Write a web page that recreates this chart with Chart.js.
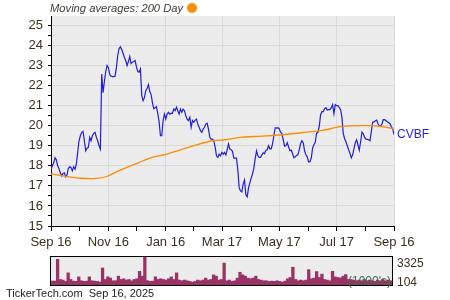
<!DOCTYPE html>
<html><head><meta charset="utf-8">
<script src="https://cdn.jsdelivr.net/npm/chart.js@4.4.1/dist/chart.umd.min.js"></script>
<style>
body{margin:0;background:#fff;width:450px;height:300px;overflow:hidden;position:relative;font-family:Arial,"Liberation Sans",sans-serif}
canvas{position:absolute;left:0}
#main{top:0}
#vol{top:250px}
.t{position:absolute;white-space:nowrap;line-height:14px}
</style></head><body>
<canvas id="main" width="450" height="250"></canvas>
<canvas id="vol" width="450" height="40"></canvas>
<div class="t" style="left:50px;top:1px;font-size:11.2px;font-style:italic;color:#3f3a33">Moving averages: 200 Day</div>
<div style="position:absolute;left:187px;top:3px;width:10px;height:10px;border-radius:50%;background:#ff8c00"></div>
<div class="t" style="left:397px;top:127px;font-size:12px;color:#1f1fdc">CVBF</div>
<div class="t" style="left:397px;top:256px;font-size:12px;color:#3c301e">3325</div>
<div class="t" style="left:397px;top:275px;font-size:12px;color:#3c301e">104</div>
<div class="t" style="left:348px;top:274px;font-size:12px;color:#3d6b4f">(1000's)</div>
<div class="t" style="left:6px;top:286px;font-size:11px;color:#222">TickerTech.com&nbsp;&nbsp;Sep 16, 2025</div>
<script>
// Daily closing prices (uniformly spaced trading days, Sep 16 -> Sep 16)
const priceClose = [
17.83,18.0,18.15,18.4,18.3,18.0,17.85,17.65,17.5,17.62,17.65,17.45,17.55,17.88,17.95,17.92,17.75,17.95,17.83,18.08,
18.67,19.25,19.5,19.67,19.72,19.25,18.75,18.88,18.92,19.42,19.25,19.5,19.62,19.67,19.42,19.25,19.0,18.83,22.58,21.65,
22.2,22.7,23.0,22.9,22.55,22.47,22.45,22.45,22.47,22.9,23.5,23.85,23.93,23.8,23.6,23.4,23.25,23.0,23.2,23.45,
23.1,23.17,23.2,23.25,22.95,22.7,
22.67,22.83,21.5,21.25,21.4,21.75,21.85,22.05,21.7,21.55,21.15,20.85,20.9,20.95,20.6,20.2,19.5,19.5,20.25,20.58,
20.33,20.58,20.67,20.58,20.62,20.62,20.83,20.75,20.92,20.75,20.58,20.83,20.67,20.83,20.75,20.5,20.33,20.25,20.42,19.92,
20.25,20.17,20.28,20.33,20.08,19.92,19.75,19.67,19.83,19.92,20.08,20.12,19.83,19.42,19.33,19.33,19.25,18.92,18.5,18.42,
18.58,18.5,18.67,18.58,18.67,
18.55,18.8,19.1,18.83,18.8,18.72,18.38,18.38,18.38,17.8,16.9,16.75,16.7,17.1,17.3,16.55,16.45,16.9,17.15,17.4,
17.6,17.9,18.35,18.75,18.5,18.42,18.42,18.55,18.65,18.6,18.78,18.8,19.0,18.85,18.85,19.1,19.5,19.9,19.88,19.9,
19.85,19.68,19.6,19.3,18.98,19.0,19.15,18.95,18.75,18.78,18.6,18.4,18.45,18.52,18.55,18.8,19.1,19.25,19.15,18.75,
18.55,18.45,18.2,18.2,18.38,
18.88,19.05,19.17,19.63,19.67,19.97,20.55,20.7,20.7,20.85,20.9,20.78,20.8,20.8,20.9,21.05,20.6,21.05,21.0,21.0,
20.9,20.8,20.4,19.6,19.35,19.2,19.0,18.8,18.62,18.4,18.55,18.85,19.15,19.3,19.05,18.78,19.2,19.68,19.6,19.42,
19.33,19.32,19.3,19.25,19.7,20.18,20.18,20.25,20.28,20.1,20.0,19.97,20.1,20.3,20.3,20.25,20.2,20.15,20.1,19.95,
19.85,19.55
];
// 200-day moving average, read at these day offsets
const maDays   = [0,15,32,48,60,72,82,93,106,122,138,153,172,185,203,225,246,267,287,310,341,356,365];
const maValues = [17.6,17.48,17.38,17.37,17.48,17.75,17.95,18.15,18.4,18.57,18.8,19.02,19.25,19.3,19.43,19.48,19.55,19.65,19.75,19.97,20.0,19.93,19.83];
// Volume in thousands
const volumeK = [
556,556,3050,740,670,520,1500,740,550,520,1040,590,520,550,1040,590,550,520,440,2060,
740,1040,900,590,590,1120,740,820,670,740,590,740,820,1680,1120,3325,600,520,550,1040,
740,820,740,670,820,1040,740,1500,670,590,670,590,520,440,520,670,590,670,900,670,
740,1270,1120,670,740,2630,590,670,520,590,900,1570,1270,1120,900,820,900,1120,740,670,
590,590,520,550,520,590,520,440,550,820,970,2150,740,590,670,590,670,1870,820,900,
1650,970,1350,740,670,590,1680,1040,970,900,1120,1300,740,740,670,590,670,590,740,590,
670,590,520,670,590,740,590,670,590
];
const xMajorDays = [0,61,122,182,243,304,365];
const xMajorLabels = ['Sep 16','Nov 16','Jan 16','Mar 17','May 17','Jul 17','Sep 16'];
const xMinorDays = [30,91,152,213,274,335];
const yMin = 15, yMax = 25;
const volMin = 104, volMax = 3325;

Chart.defaults.font.family = 'Arial, "Liberation Sans", sans-serif';
const labelColor = '#3c301e';
const gridColor = '#d9d9d9';

const bgPlugin = {id:'bg', beforeDraw(c){const a=c.chartArea,x=c.ctx;x.save();x.fillStyle='#ececec';x.fillRect(a.left,a.top,a.right-a.left,a.bottom-a.top);x.restore();}};

const nDays = 365;
const pricePts = priceClose.map((v,i)=>({x:i*nDays/(priceClose.length-1), y:v}));
const maPts = maDays.map((d,i)=>({x:d, y:maValues[i]}));

new Chart(document.getElementById('main'), {
  type:'line',
  data:{datasets:[
    {data:maPts, borderColor:'#ff8c00', borderWidth:1.3, pointRadius:0, tension:0.3, order:1},
    {data:pricePts, borderColor:'#1f1fdc', borderWidth:1.2, pointRadius:0, tension:0, order:2}
  ]},
  options:{
    responsive:false, animation:false, events:[],
    layout:{padding:{left:0,top:16,right:56,bottom:0}},
    plugins:{legend:{display:false}, tooltip:{enabled:false}},
    scales:{
      x:{type:'linear', min:0, max:nDays,
        afterBuildTicks:s=>{s.ticks=[...xMajorDays,...xMinorDays].sort((a,b)=>a-b).map(v=>({value:v}));},
        afterFit:s=>{s.height=24;},
        ticks:{autoSkip:false, maxRotation:0, padding:4, color:labelColor, font:{size:13},
          callback:v=>{const k=xMajorDays.indexOf(v);return k>=0?xMajorLabels[k]:'';}},
        grid:{color:c=>(c.tick&&xMajorDays.includes(c.tick.value)&&c.tick.value!==0)?gridColor:'rgba(0,0,0,0)',
          tickColor:'#000', tickLength:5, lineWidth:1},
        border:{color:'#000', width:1}
      },
      y:{type:'linear', min:yMin, max:25.47,
        afterBuildTicks:s=>{const t=[];for(let v=yMin;v<=yMax;v+=0.5)t.push({value:v});s.ticks=t;},
        afterFit:s=>{s.width=51;},
        ticks:{autoSkip:false, padding:5, color:labelColor, font:{size:13},
          callback:v=>Number.isInteger(v)?String(v):''},
        grid:{color:c=>(c.tick&&Number.isInteger(c.tick.value)&&c.tick.value!==yMin)?gridColor:'rgba(0,0,0,0)',
          tickColor:'#000', tickLength:3, lineWidth:1},
        border:{color:'#000', width:1}
      }
    }
  },
  plugins:[bgPlugin]
});

const volFrame = {id:'frame', beforeDraw(c){const a=c.chartArea,x=c.ctx;x.save();x.fillStyle='#ececec';x.fillRect(a.left,a.top,a.right-a.left,a.bottom-a.top);x.restore();},
  afterDraw(c){const a=c.chartArea,x=c.ctx;x.save();x.strokeStyle='#000';x.lineWidth=1;x.strokeRect(a.left-0.5,a.top-0.5,a.right-a.left+1,a.bottom-a.top+1);x.restore();}};

new Chart(document.getElementById('vol'), {
  type:'bar',
  data:{labels:volumeK.map((_,i)=>i), datasets:[{data:volumeK, backgroundColor:'#993366', borderWidth:0, barPercentage:1, categoryPercentage:1}]},
  options:{
    responsive:false, animation:false, events:[],
    layout:{padding:{left:51,top:7,right:58,bottom:5}},
    plugins:{legend:{display:false}, tooltip:{enabled:false}},
    scales:{x:{display:false}, y:{display:false, min:volMin, max:volMax}}
  },
  plugins:[volFrame]
});
</script>
</body></html>
